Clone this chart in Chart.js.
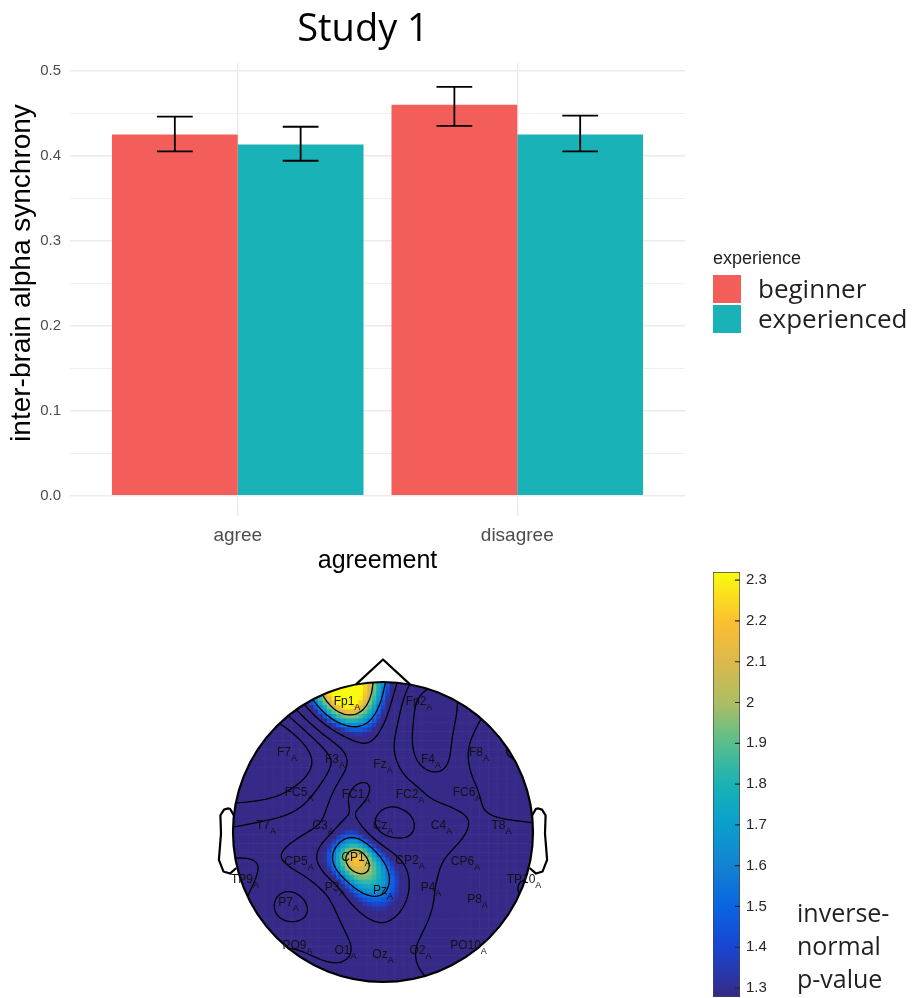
<!DOCTYPE html>
<html>
<head>
<meta charset="utf-8">
<script src="https://cdn.jsdelivr.net/npm/chart.js@4.4.1/dist/chart.umd.min.js"></script>
<style>
	html, body { margin: 0; padding: 0; background: #fff; overflow: hidden; }
	body { width: 912px; height: 998px; position: relative; }
	canvas { position: absolute; }
	#barChart { left: 0; top: 0; }
	#topoChart { left: 203px; top: 652px; }
	#colorbarChart { left: 690px; top: 560px; }
	.legend-title { position: absolute; left: 713px; top: 247px; font: 18px 'Liberation Sans', Arial, sans-serif; color: #222; line-height: 22px; }
	.legend-box { position: absolute; left: 713px; width: 28px; height: 28px; }
	.legend-label { position: absolute; left: 758px; font: 26px 'Open Sans', sans-serif; color: #231f20; line-height: 30px; }
	.cbar-label { position: absolute; left: 797px; font: 25px 'Open Sans', sans-serif; color: #231f20; line-height: 33px; }
</style>
</head>
<body>
<canvas id="barChart" width="726" height="580"></canvas>
<canvas id="topoChart" width="360" height="360"></canvas>
<canvas id="colorbarChart" width="110" height="438"></canvas>
<div id="legend"></div>
<div class="cbar-label" style="top:896px">inverse-</div>
<div class="cbar-label" style="top:929px">normal</div>
<div class="cbar-label" style="top:962px">p-value</div>
<script>
// --- bar chart data ---
const categories = ['agree', 'disagree'];
const experienceLevels = ['beginner', 'experienced'];
const beginnerMeans = [0.425, 0.460];
const beginnerLow = [0.405, 0.435];
const beginnerHigh = [0.446, 0.481];
const experiencedMeans = [0.413, 0.425];
const experiencedLow = [0.394, 0.405];
const experiencedHigh = [0.434, 0.447];
const yTicks = [0, 0.05, 0.1, 0.15, 0.2, 0.25, 0.3, 0.35, 0.4, 0.45, 0.5];

// --- topography data (head radius = 1) ---
const electrodeNames = ['Fp1', 'Fp2', 'F7', 'F3', 'Fz', 'F4', 'F8', 'FC5', 'FC1', 'FC2', 'FC6', 'T7', 'C3', 'Cz', 'C4', 'T8',
	'CP5', 'CP1', 'CP2', 'CP6', 'TP9', 'P3', 'Pz', 'P4', 'P8', 'TP10', 'P7', 'PO9', 'O1', 'Oz', 'O2', 'PO10'];
const electrodeX = [-0.24, 0.24, -0.64, -0.32, 0, 0.32, 0.64, -0.56, -0.18, 0.18, 0.56, -0.78, -0.40, 0, 0.39, 0.79,
	-0.56, -0.18, 0.18, 0.55, -0.92, -0.32, 0, 0.32, 0.63, 0.94, -0.63, -0.57, -0.25, 0, 0.25, 0.57];
const electrodeY = [0.87, 0.87, 0.53, 0.48, 0.45, 0.48, 0.53, 0.26, 0.25, 0.25, 0.26, 0.04, 0.04, 0.04, 0.04, 0.04,
	-0.20, -0.17, -0.19, -0.20, -0.32, -0.37, -0.39, -0.37, -0.45, -0.32, -0.47, -0.76, -0.79, -0.82, -0.79, -0.76];
const electrodeValues = [2.45, 0.15, -0.8, 0.3, 0.9, 0.0, 0.9, -0.05, 1.2, 0.8, 0.55, 0.3, 0.75, 0.45, 0.8, 0.6,
	0.8, 2.2, 0.95, 0.5, 0.75, 1.0, 1.6, 0.7, 0.4, 0.2, 0.05, 0.6, 0.6, 0.9, 0.6, 0.35];
const contourLevels = [-0.25, 0.2, 0.65, 1.1, 1.55, 2.0];

// --- colour bar ---
const colorbarMin = 1.278;
const colorbarMax = 2.32;
const colorbarTicks = [1.3, 1.4, 1.5, 1.6, 1.7, 1.8, 1.9, 2.0, 2.1, 2.2, 2.3];
const parulaStops = [
	[0.00, 53, 42, 135], [0.12, 25, 70, 210], [0.21, 10, 100, 225], [0.31, 20, 130, 210],
	[0.41, 10, 160, 205], [0.50, 25, 178, 180], [0.60, 90, 190, 140], [0.69, 170, 190, 100],
	[0.79, 220, 185, 75], [0.88, 252, 190, 50], [1.00, 249, 251, 14],
];

const barColors = ['#F35E5A', '#19B2B7'];
const axisFont = "'Liberation Sans', Arial, sans-serif";

const parula = (v) => {
	const t = Math.min(1, Math.max(0, (v - colorbarMin) / (colorbarMax - colorbarMin)));
	for (let i = 1; i < parulaStops.length; i++) {
		const a = parulaStops[i - 1];
		const b = parulaStops[i];
		if (t <= b[0]) {
			const f = (t - a[0]) / (b[0] - a[0]);
			return `rgb(${Math.round(a[1] + f * (b[1] - a[1]))},${Math.round(a[2] + f * (b[2] - a[2]))},${Math.round(a[3] + f * (b[3] - a[3]))})`;
		}
	}
	return 'rgb(249,251,14)';
};

// ---------- bar chart ----------
const errorBarPlugin = {
	id: 'errorBars',
	afterDatasetsDraw(chart) {
		const { ctx, scales } = chart;
		const half = scales.x.getPixelForValue(1.064) - scales.x.getPixelForValue(1);
		ctx.save();
		ctx.strokeStyle = '#000';
		ctx.lineWidth = 1.8;
		chart.data.datasets.forEach((ds, d) => {
			chart.getDatasetMeta(d).data.forEach((bar, i) => {
				const lo = scales.y.getPixelForValue(ds.errorLow[i]);
				const hi = scales.y.getPixelForValue(ds.errorHigh[i]);
				ctx.beginPath();
				ctx.moveTo(bar.x, lo);
				ctx.lineTo(bar.x, hi);
				ctx.moveTo(bar.x - half, lo);
				ctx.lineTo(bar.x + half, lo);
				ctx.moveTo(bar.x - half, hi);
				ctx.lineTo(bar.x + half, hi);
				ctx.stroke();
			});
		});
		ctx.restore();
	},
};

// title and y title drawn by hand so they sit where the original has them
const titlesPlugin = {
	id: 'titles',
	afterDraw(chart) {
		const { ctx } = chart;
		ctx.save();
		ctx.fillStyle = '#000';
		ctx.textAlign = 'center';
		ctx.font = "38px 'Open Sans', sans-serif";
		ctx.textBaseline = 'alphabetic';
		ctx.fillText('Study 1', 363, 41);
		ctx.translate(22, 273);
		ctx.rotate(-Math.PI / 2);
		ctx.font = `28px ${axisFont}`;
		ctx.textBaseline = 'middle';
		ctx.fillText('inter-brain alpha synchrony', 0, 0);
		ctx.restore();
	},
};

const isMajor = (v) => Math.abs(v * 10 - Math.round(v * 10)) < 1e-6;

const barChart = new Chart(document.getElementById('barChart'), {
	type: 'bar',
	data: {
		datasets: [
			{
				label: experienceLevels[0],
				data: beginnerMeans.map((m, i) => ({ x: i + 1, y: m })),
				errorLow: beginnerLow,
				errorHigh: beginnerHigh,
				backgroundColor: barColors[0],
			},
			{
				label: experienceLevels[1],
				data: experiencedMeans.map((m, i) => ({ x: i + 1, y: m })),
				errorLow: experiencedLow,
				errorHigh: experiencedHigh,
				backgroundColor: barColors[1],
			},
		],
	},
	options: {
		responsive: false,
		animation: false,
		categoryPercentage: 0.9,
		barPercentage: 1.0,
		layout: { padding: { left: 0, right: 41, top: 63, bottom: 0 } },
		plugins: {
			legend: { display: false },
			tooltip: { enabled: false },
		},
		scales: {
			x: {
				type: 'linear',
				min: 0.4,
				max: 2.6,
				offset: false,
				afterBuildTicks: (scale) => { scale.ticks = categories.map((_, i) => ({ value: i + 1 })); },
				afterFit: (scale) => { scale.height = 64; },
				ticks: {
					callback: (v) => categories[Math.round(v) - 1],
					color: '#4d4d4d',
					font: { family: axisFont, size: 19 },
					padding: 8,
					maxRotation: 0,
				},
				grid: { offset: false, color: '#ebebeb', lineWidth: 1.4, drawTicks: false },
				border: { display: false },
				title: {
					display: true,
					text: 'agreement',
					color: '#000',
					font: { family: axisFont, size: 25 },
					padding: { top: 0, bottom: 4 },
				},
			},
			y: {
				min: -0.024,
				max: 0.509,
				afterBuildTicks: (scale) => { scale.ticks = yTicks.map((v) => ({ value: v })); },
				afterFit: (scale) => {
					scale.width = 70;
					scale.paddingTop = 0;
					scale.paddingBottom = 0;
				},
				ticks: {
					callback: (v) => (isMajor(v) ? v.toFixed(1) : ''),
					color: '#4d4d4d',
					font: { family: axisFont, size: 15 },
					padding: 9,
					autoSkip: false,
				},
				grid: {
					color: '#ebebeb',
					lineWidth: (ctx) => (ctx.tick && isMajor(ctx.tick.value) ? 1.4 : 0.8),
					drawTicks: false,
				},
				border: { display: false },
			},
		},
	},
	plugins: [errorBarPlugin, titlesPlugin],
});

// html legend built from the chart datasets
const legend = document.getElementById('legend');
legend.innerHTML = '<div class="legend-title">experience</div>';
barChart.data.datasets.forEach((ds, i) => {
	const top = 275 + i * 30;
	legend.insertAdjacentHTML('beforeend',
		`<div class="legend-box" style="top:${top}px;background:${ds.backgroundColor}"></div>` +
		`<div class="legend-label" style="top:${top - 2}px">${ds.label}</div>`);
});

// ---------- topography ----------
const green = (r) => (r > 0 ? r * r * (Math.log(r) - 1) : 0);

const solveWeights = () => {
	const n = electrodeX.length;
	const m = [];
	for (let i = 0; i < n; i++) {
		const row = [];
		for (let j = 0; j < n; j++) {
			row.push(green(Math.hypot(electrodeX[i] - electrodeX[j], electrodeY[i] - electrodeY[j])));
		}
		row.push(electrodeValues[i]);
		m.push(row);
	}
	for (let c = 0; c < n; c++) {
		let p = c;
		for (let r = c + 1; r < n; r++) {
			if (Math.abs(m[r][c]) > Math.abs(m[p][c])) p = r;
		}
		[m[c], m[p]] = [m[p], m[c]];
		for (let r = 0; r < n; r++) {
			if (r === c) continue;
			const f = m[r][c] / m[c][c];
			for (let k = c; k <= n; k++) m[r][k] -= f * m[c][k];
		}
	}
	return m.map((row, i) => row[n] / row[i]);
};

const weights = solveWeights();
const fieldAt = (x, y) => {
	let s = 0;
	for (let i = 0; i < weights.length; i++) {
		s += weights[i] * green(Math.hypot(x - electrodeX[i], y - electrodeY[i]));
	}
	return s;
};

const earX = [0.994, 1.02, 1.036, 1.06, 1.084, 1.08, 1.094, 1.064, 1.02, 0.978];
const earY = [0.111, 0.155, 0.157, 0.149, 0.111, -0.011, -0.186, -0.263, -0.277, -0.240];

const topoPlugin = {
	id: 'topo',
	beforeDatasetsDraw(chart) {
		const { ctx, scales } = chart;
		const px = (v) => scales.x.getPixelForValue(v);
		const py = (v) => scales.y.getPixelForValue(v);
		const radius = px(1) - px(0);

		ctx.save();
		ctx.beginPath();
		ctx.arc(px(0), py(0), radius, 0, Math.PI * 2);
		ctx.clip();

		const cells = 67;
		const cs = 2 / cells;
		for (let i = 0; i < cells; i++) {
			for (let j = 0; j < cells; j++) {
				const cx = -1 + (i + 0.5) * cs;
				const cy = -1 + (j + 0.5) * cs;
				if (cx * cx + cy * cy > 1.08) continue;
				ctx.fillStyle = parula(fieldAt(cx, cy));
				const x0 = px(cx - cs / 2);
				const y0 = py(cy + cs / 2);
				ctx.fillRect(x0, y0, px(cx + cs / 2) - x0 + 0.6, py(cy - cs / 2) - y0 + 0.6);
			}
		}

		// contour lines (marching squares)
		const n = 110;
		const lo = -1.03;
		const step = 2.06 / n;
		const grid = [];
		for (let i = 0; i <= n; i++) {
			grid.push([]);
			for (let j = 0; j <= n; j++) grid[i].push(fieldAt(lo + i * step, lo + j * step));
		}
		ctx.strokeStyle = '#000';
		ctx.lineWidth = 1.3;
		ctx.beginPath();
		contourLevels.forEach((lev) => {
			for (let i = 0; i < n; i++) {
				for (let j = 0; j < n; j++) {
					const x0 = lo + i * step;
					const y0 = lo + j * step;
					const corners = [
						[x0, y0, grid[i][j]],
						[x0 + step, y0, grid[i + 1][j]],
						[x0 + step, y0 + step, grid[i + 1][j + 1]],
						[x0, y0 + step, grid[i][j + 1]],
					];
					const pts = [];
					for (let e = 0; e < 4; e++) {
						const a = corners[e];
						const b = corners[(e + 1) % 4];
						if ((a[2] - lev) * (b[2] - lev) < 0) {
							const t = (lev - a[2]) / (b[2] - a[2]);
							pts.push([a[0] + t * (b[0] - a[0]), a[1] + t * (b[1] - a[1])]);
						}
					}
					for (let k = 0; k + 1 < pts.length; k += 2) {
						ctx.moveTo(px(pts[k][0]), py(pts[k][1]));
						ctx.lineTo(px(pts[k + 1][0]), py(pts[k + 1][1]));
					}
				}
			}
		});
		ctx.stroke();
		ctx.restore();

		// head, nose, ears
		ctx.save();
		ctx.strokeStyle = '#000';
		ctx.lineWidth = 2.2;
		ctx.lineJoin = 'round';
		ctx.beginPath();
		ctx.arc(px(0), py(0), radius, 0, Math.PI * 2);
		ctx.stroke();
		ctx.beginPath();
		ctx.moveTo(px(-0.18), py(0.984));
		ctx.lineTo(px(0), py(1.15));
		ctx.lineTo(px(0.18), py(0.984));
		ctx.stroke();
		[1, -1].forEach((side) => {
			ctx.beginPath();
			earX.forEach((x, k) => {
				const fn = k === 0 ? 'moveTo' : 'lineTo';
				ctx[fn](px(side * x), py(earY[k]));
			});
			ctx.stroke();
		});
		ctx.restore();
	},
	afterDatasetsDraw(chart) {
		const { ctx } = chart;
		const meta = chart.getDatasetMeta(0);
		ctx.save();
		ctx.fillStyle = '#111';
		ctx.textBaseline = 'middle';
		meta.data.forEach((pt, i) => {
			ctx.font = `12px ${axisFont}`;
			const w1 = ctx.measureText(electrodeNames[i]).width;
			ctx.font = `9px ${axisFont}`;
			const w2 = ctx.measureText('A').width;
			const x = pt.x - (w1 + w2) / 2;
			ctx.font = `12px ${axisFont}`;
			ctx.fillText(electrodeNames[i], x, pt.y);
			ctx.font = `9px ${axisFont}`;
			ctx.fillText('A', x + w1, pt.y + 6);
		});
		ctx.restore();
	},
};

new Chart(document.getElementById('topoChart'), {
	type: 'scatter',
	data: {
		datasets: [{
			data: electrodeX.map((x, i) => ({ x, y: electrodeY[i] })),
			pointRadius: 0,
		}],
	},
	options: {
		responsive: false,
		animation: false,
		layout: { padding: 0 },
		plugins: { legend: { display: false }, tooltip: { enabled: false } },
		scales: {
			x: { type: 'linear', min: -1.2, max: 1.2, display: false },
			y: { type: 'linear', min: -1.2, max: 1.2, display: false },
		},
	},
	plugins: [topoPlugin],
});

// ---------- colour bar ----------
const colorbarTickPlugin = {
	id: 'cbarTicks',
	afterDatasetsDraw(chart) {
		const { ctx, scales, chartArea } = chart;
		ctx.save();
		ctx.strokeStyle = '#262626';
		ctx.lineWidth = 1.2;
		ctx.beginPath();
		colorbarTicks.forEach((v) => {
			const y = scales.y.getPixelForValue(v);
			ctx.moveTo(chartArea.right - 5, y);
			ctx.lineTo(chartArea.right, y);
		});
		ctx.stroke();
		ctx.restore();
	},
};

new Chart(document.getElementById('colorbarChart'), {
	type: 'bar',
	data: {
		labels: ['scale'],
		datasets: [{
			data: [[colorbarMin, colorbarMax]],
			borderColor: '#444',
			borderWidth: 1,
			borderSkipped: false,
			backgroundColor: (ctx) => {
				const { chart } = ctx;
				if (!chart.chartArea) return '#352a87';
				const y0 = chart.scales.y.getPixelForValue(colorbarMin);
				const y1 = chart.scales.y.getPixelForValue(colorbarMax);
				const g = chart.ctx.createLinearGradient(0, y0, 0, y1);
				parulaStops.forEach(([t, r, gg, b]) => g.addColorStop(t, `rgb(${r},${gg},${b})`));
				return g;
			},
		}],
	},
	options: {
		responsive: false,
		animation: false,
		categoryPercentage: 1,
		barPercentage: 1,
		layout: { padding: { left: 23, top: 12, bottom: 1, right: 0 } },
		plugins: { legend: { display: false }, tooltip: { enabled: false } },
		scales: {
			x: { display: false },
			y: {
				position: 'right',
				min: colorbarMin,
				max: colorbarMax,
				afterBuildTicks: (scale) => { scale.ticks = colorbarTicks.map((v) => ({ value: v })); },
				afterFit: (scale) => {
					scale.width = 60;
					scale.paddingTop = 0;
					scale.paddingBottom = 0;
				},
				ticks: {
					callback: (v) => String(Math.round(v * 10) / 10),
					color: '#262626',
					font: { family: axisFont, size: 15 },
					padding: 6,
					autoSkip: false,
				},
				grid: { display: false, drawTicks: false },
				border: { display: false },
			},
		},
	},
	plugins: [colorbarTickPlugin],
});
</script>
</body>
</html>
